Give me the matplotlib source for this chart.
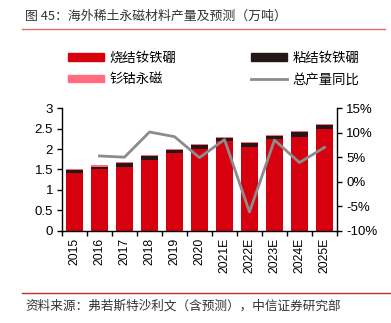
import matplotlib
matplotlib.use("Agg")
import matplotlib.pyplot as plt
import numpy as np
from matplotlib.lines import Line2D
from matplotlib.patches import Patch

# Data (万吨 / %)
years = ["2015", "2016", "2017", "2018", "2019", "2020",
         "2021E", "2022E", "2023E", "2024E", "2025E"]
sintered_ndfeb = [1.42, 1.50, 1.56, 1.72, 1.90, 2.00, 2.20, 2.04, 2.24, 2.30, 2.49]
bonded_ndfeb = [0.06, 0.07, 0.10, 0.10, 0.08, 0.10, 0.07, 0.10, 0.08, 0.11, 0.10]
smco = [0.03, 0.03, 0.03, 0.03, 0.03, 0.03, 0.03, 0.03, 0.03, 0.03, 0.03]
yoy_years = years[1:]
yoy_growth = [5.25, 5.0, 10.15, 9.2, 4.9, 8.6, -6.2, 8.5, 3.9, 7.0]

left_ticks = [0, 0.5, 1, 1.5, 2, 2.5, 3]
right_ticks = [-10, -5, 0, 5, 10, 15]

RED = "#D7000F"
BLACK = "#231815"
PINK = "#FF6B7F"
GRAY = "#8C8C8C"

CJK = ["Noto Sans CJK SC", "DejaVu Sans"]
NUM = ["Liberation Sans", "DejaVu Sans"]

W, H = 391, 323
fig = plt.figure(figsize=(W / 100, H / 100), dpi=100)
fig.patch.set_facecolor("white")

def px(x, y):
    return x / W, 1 - y / H

# Title and rules
fig.text(*px(25, 16.5), "图 45：海外稀土永磁材料产量及预测（万吨）", family=CJK,
         fontsize=9.3, color="#333333", va="center", ha="left")
fig.add_artist(Line2D([22 / W, 385 / W], [1 - 29 / H] * 2, color="#E06B6B", lw=1.0))
fig.add_artist(Line2D([22 / W, 391 / W], [1 - 293 / H] * 2, color="#C0302B", lw=1.0))
fig.text(*px(25, 306), "资料来源：弗若斯特沙利文（含预测），中信证券研究部", family=CJK,
         fontsize=9.1, color="#333333", va="center", ha="left")

# Axes
left, right, top, bottom = 62, 337, 108.3, 230.5
ax = fig.add_axes([left / W, 1 - bottom / H, (right - left) / W, (bottom - top) / H])
x = np.arange(len(years))
bw = 0.66
s = np.array(sintered_ndfeb)
b = np.array(bonded_ndfeb)
ax.bar(x, s, width=bw, color=RED, zorder=2)
ax.bar(x, b, width=bw, bottom=s, color=BLACK, zorder=2)
ax.bar(x, smco, width=bw, bottom=s + b, color=PINK, zorder=2)

ax.set_xlim(-0.5, len(years) - 0.5)
ax.set_ylim(0, 3)
ax.set_yticks(left_ticks)
ax.set_yticklabels(["0", "0.5", "1", "1.5", "2", "2.5", "3"])
ax.set_xticks(np.arange(len(years) + 1) - 0.5)
ax.set_xticklabels([])
ax.set_xticks(x, minor=True)
ax.set_xticklabels(years, minor=True, rotation=90, family=NUM, fontsize=8.8)
ax.tick_params(axis="x", which="minor", length=0, pad=5)
ax.tick_params(axis="x", which="major", length=3.5, width=1, direction="out")
ax.tick_params(axis="y", length=3.5, width=1, direction="out", pad=3, labelsize=9.5)
for lbl in ax.get_yticklabels():
    lbl.set_family(NUM)
for side in ["top", "right"]:
    ax.spines[side].set_visible(False)
for side in ["left", "bottom"]:
    ax.spines[side].set_linewidth(1.0)

ax2 = ax.twinx()
ax2.plot(np.arange(1, len(years)), yoy_growth, color=GRAY, lw=2.0, zorder=3)
ax2.set_ylim(-10, 15)
ax2.set_yticks(right_ticks)
ax2.set_yticklabels([f"{t}%" for t in right_ticks], family=NUM)
ax2.tick_params(axis="y", length=3.5, width=1, direction="out", pad=3, labelsize=9.5)
for side in ["top", "left", "bottom"]:
    ax2.spines[side].set_visible(False)
ax2.spines["right"].set_linewidth(1.0)

# Legend
handles1 = [Patch(color=RED), Patch(color=PINK)]
handles2 = [Patch(color=BLACK), Line2D([], [], color=GRAY, lw=2)]
leg_kw = dict(frameon=False, prop={"family": CJK, "size": 9.6}, handlelength=2.7,
              handleheight=0.5, handletextpad=0.4, labelspacing=0.55,
              borderaxespad=0, borderpad=0)
l1 = fig.legend(handles1, ["烧结钕铁硼", "钐钴永磁"], loc="upper left",
                bbox_to_anchor=(68 / W, 1 - 51 / H), **leg_kw)
l2 = fig.legend(handles2, ["粘结钕铁硼", "总产量同比"], loc="upper left",
                bbox_to_anchor=(251 / W, 1 - 51 / H), **leg_kw)

fig.savefig("out.png", dpi=100, facecolor="white")
